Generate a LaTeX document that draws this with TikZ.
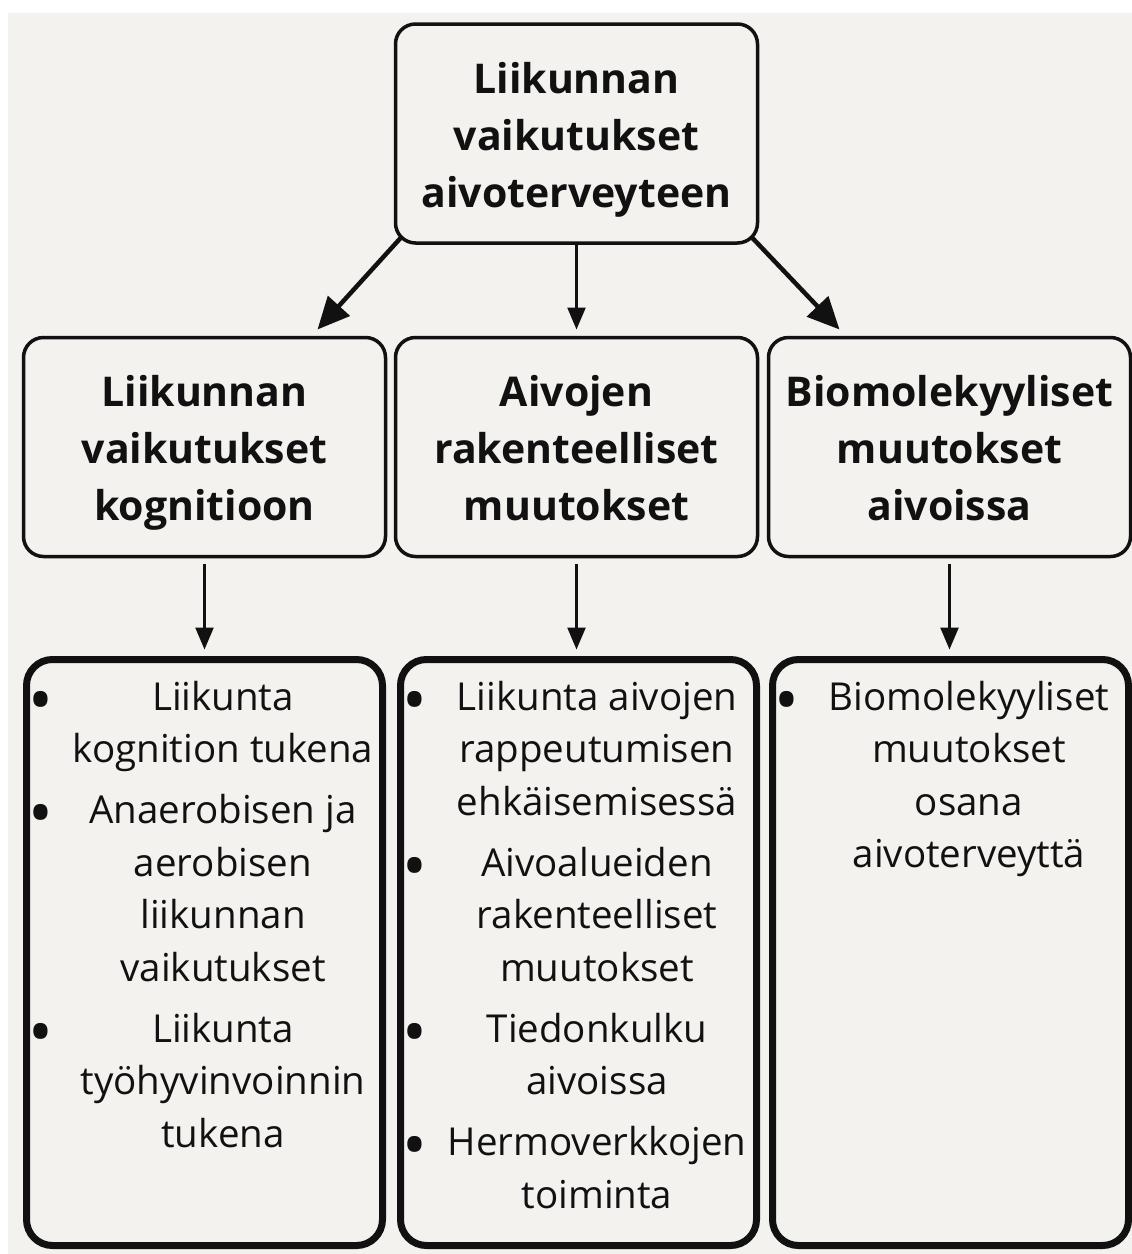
\documentclass[tikz,border=0pt]{standalone}
\usepackage{fontspec}
\setmainfont{Open Sans}
\usetikzlibrary{positioning, arrows.meta}

\definecolor{paper}{HTML}{F3F2EF}
\definecolor{ink}{HTML}{111111}

% header text, kept a little low in its box
\newcommand{\hd}[1]{\rule{0pt}{50pt}#1\rule[-17pt]{0pt}{17pt}}
% one bullet point of a list box
\newcommand{\itm}[1]{\noindent\makebox[44pt][l]{\hspace{2pt}{\fontsize{66}{66}\selectfont\raisebox{-13pt}{•}}}%
  \parbox[t]{305pt}{\centering\strut #1\strut}\par\vspace{7.5pt}}
\newcommand{\lstbox}[1]{\parbox[c][586pt][t]{356pt}{\vspace*{14pt}#1}}

\tikzset{
    hdr/.style={draw=ink, line width=3.5pt, rounded corners=20pt, fill=paper, text=ink,
        minimum width=362pt, minimum height=219pt, align=center, inner sep=0pt, outer sep=0pt,
        font=\fontsize{41}{57}\selectfont\bfseries},
    lst/.style={draw=ink, line width=7pt, rounded corners=26pt, fill=paper, text=ink,
        inner sep=0pt, outer sep=0pt, font=\fontsize{38.5}{52.5}\selectfont},
    bigarr/.style={draw=ink, line width=4.5pt, -{Triangle[length=32pt, width=29pt]}},
    arr/.style={draw=ink, line width=2.5pt, -{Triangle[length=22pt, width=18pt]}}
}

\begin{document}
\begin{tikzpicture}[x=1pt, y=1pt]
    \useasboundingbox (0,0) rectangle (1132,-1254);
    \fill[white] (0,0) rectangle (1132,-1254);
    \fill[paper] (8,-13) rectangle (1132,-1254);

    \node[hdr] (top) at (576.5,-133.5) {\hd{Liikunnan\\vaikutukset\\aivoterveyteen}};
    \node[hdr, below = 94.5pt of top] (midC) {\hd{Aivojen\\rakenteelliset\\muutokset}};
    \node[hdr, left = 10pt of midC] (midL) {\hd{Liikunnan\\vaikutukset\\kognitioon}};
    \node[hdr, right = 11pt of midC] (midR) {\hd{Biomolekyyliset\\muutokset\\aivoissa}};

    \node[lst, below = 103pt of midL] (botL) {\lstbox{%
        \itm{Liikunta\\kognition tukena}
        \itm{Anaerobisen ja\\aerobisen\\liikunnan\\vaikutukset}
        \itm{Liikunta\\työhyvinvoinnin\\tukena}}};
    \node[lst, below = 103pt of midC, xshift=2pt] (botC) {\lstbox{%
        \itm{Liikunta aivojen\\rappeutumisen\\ehkäisemisessä}
        \itm{Aivoalueiden\\rakenteelliset\\muutokset}
        \itm{Tiedonkulku\\aivoissa}
        \itm{Hermoverkkojen\\toiminta}}};
    \node[lst, below = 103pt of midR, xshift=1pt] (botR) {\lstbox{%
        \itm{Biomolekyyliset\\muutokset\\osana\\aivoterveyttä}}};

    \draw[bigarr] ([shift={(6pt,6pt)}]top.south west) -- ([shift={(-68pt,8pt)}]midL.north east);
    \draw[arr] (top.south) -- ([yshift=8pt]midC.north);
    \draw[bigarr] ([shift={(-6pt,6pt)}]top.south east) -- ([shift={(71pt,8pt)}]midR.north west);

    \draw[arr] ([yshift=-7pt]midL.south) -- ([yshift=10pt]botL.north -| midL.south);
    \draw[arr] ([yshift=-7pt]midC.south) -- ([yshift=10pt]botC.north -| midC.south);
    \draw[arr] ([yshift=-7pt]midR.south) -- ([yshift=10pt]botR.north -| midR.south);
\end{tikzpicture}
\end{document}
